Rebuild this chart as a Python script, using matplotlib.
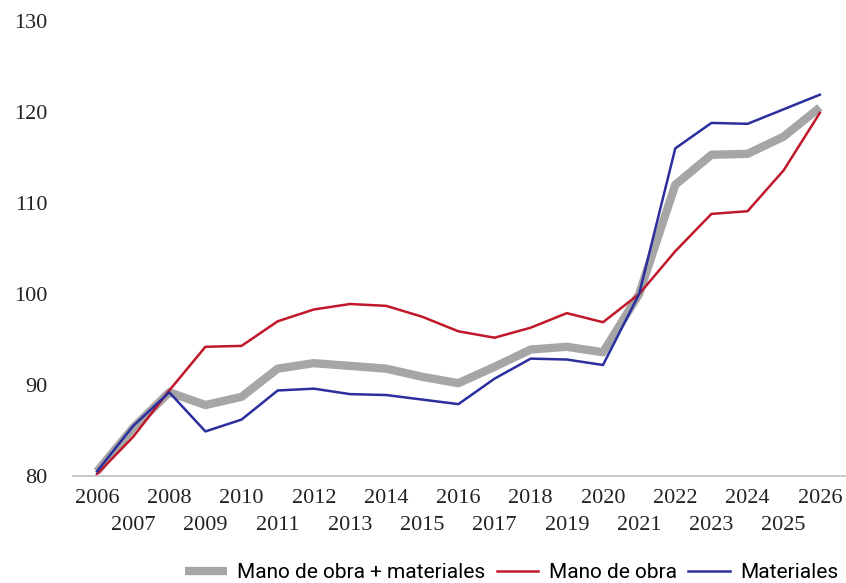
import matplotlib.pyplot as plt
import numpy as np

years = np.arange(2006, 2027)
total = [80.5, 85.3, 89.2, 87.8, 88.7, 91.8, 92.4, 92.1, 91.8, 90.9, 90.2,
         92.0, 93.9, 94.2, 93.6, 100.0, 112.0, 115.3, 115.4, 117.3, 120.5]
mano = [80.2, 84.3, 89.4, 94.2, 94.3, 97.0, 98.3, 98.9, 98.7, 97.5, 95.9,
        95.2, 96.3, 97.9, 96.9, 100.0, 104.7, 108.8, 109.1, 113.6, 119.9]
materiales = [80.5, 85.5, 89.2, 84.9, 86.2, 89.4, 89.6, 89.0, 88.9, 88.4, 87.9,
              90.7, 92.9, 92.8, 92.2, 100.0, 116.0, 118.8, 118.7, 120.3, 121.9]

fig = plt.figure(figsize=(8.46, 5.83), dpi=100)
ax = fig.add_axes([0.086, 0.1835, 0.913, 0.7805])

ax.plot(years, total, color="#A6A6A6", lw=6, label="Mano de obra + materiales", solid_capstyle="butt")
ax.plot(years, mano, color="#C0182A", lw=1.8, label="Mano de obra")
ax.plot(years, materiales, color="#2B2F9E", lw=1.8, label="Materiales")

ax.set_ylim(80, 130)
ax.set_xlim(2005.33, 2026.7)
ax.set_yticks(np.arange(80, 131, 10))
even = years[years % 2 == 0]
odd = years[years % 2 == 1]
ax.set_xticks(even)
ax.set_xticklabels([str(y) for y in even])
ax.set_xticks(odd, minor=True)
ax.set_xticklabels([str(y) for y in odd], minor=True)

for s in ["top", "right", "left"]:
    ax.spines[s].set_visible(False)
ax.spines["bottom"].set_color("#BFBFBF")
ax.spines["bottom"].set_linewidth(1.2)
ax.tick_params(which="both", length=0)
ax.tick_params(axis="y", pad=18)
ax.tick_params(axis="x", which="major", pad=9)
ax.tick_params(axis="x", which="minor", pad=29)
labels = ax.get_xticklabels() + ax.get_xticklabels(minor=True) + ax.get_yticklabels()
for lab in labels:
    lab.set_fontfamily("Liberation Serif")
    lab.set_fontsize(16)
    lab.set_color("#222222")

fig.legend(loc="center", bbox_to_anchor=(0.605, 0.018), ncol=3, frameon=False,
           prop={"family": "Roboto", "size": 15}, handlelength=2.0,
           columnspacing=0.55, handletextpad=0.5)

fig.savefig("out.png", dpi=100)
